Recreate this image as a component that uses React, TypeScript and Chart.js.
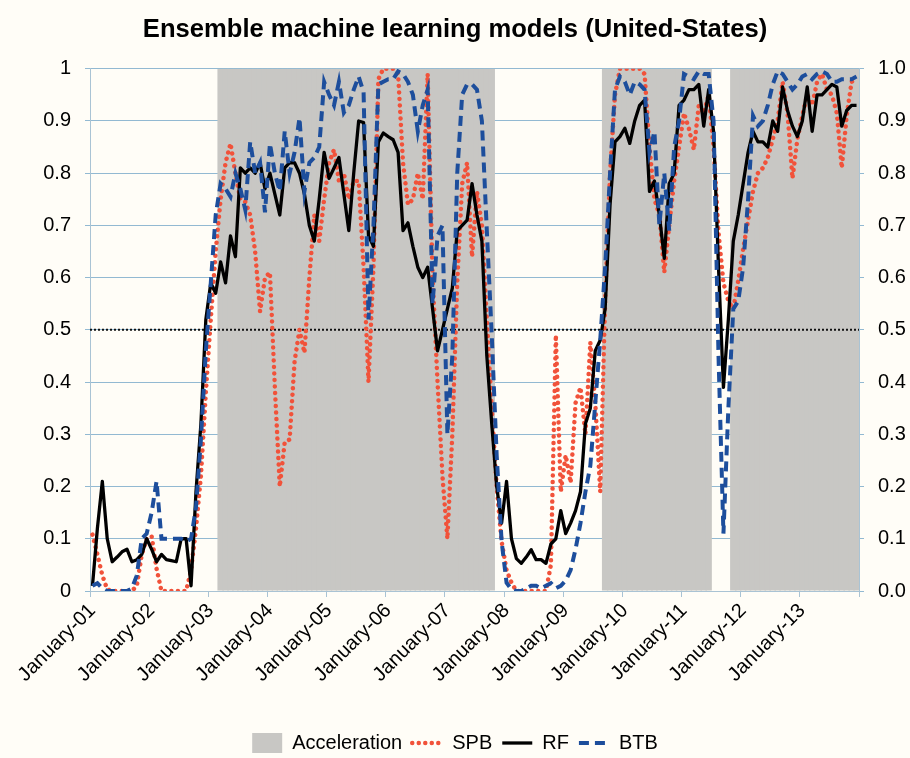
import React, { useEffect, useRef } from "react";
import { Chart, registerables } from "chart.js";

Chart.register(...registerables);

const TITLE = "Ensemble machine learning models (United-States)";
const MONTHS = ["January", "February", "March", "April", "May", "June", "July", "August", "September", "October", "November", "December"];
const YEARS = ["01", "02", "03", "04", "05", "06", "07", "08", "09", "10", "11", "12", "13"];
const LABELS: string[] = [];
YEARS.forEach((yy) => MONTHS.forEach((m) => LABELS.push(`${m}-${yy}`)));

// 1 = acceleration phase (shaded), one row per year
const ACCELERATION = [
  0, 0, 0, 0, 0, 0, 0, 0, 0, 0, 0, 0,
  0, 0, 0, 0, 0, 0, 0, 0, 0, 0, 0, 0,
  0, 0, 1, 1, 1, 1, 1, 1, 1, 1, 1, 1,
  1, 1, 1, 1, 1, 1, 1, 1, 1, 1, 1, 1,
  1, 1, 1, 1, 1, 1, 1, 1, 1, 1, 1, 1,
  1, 1, 1, 1, 1, 1, 1, 1, 1, 1, 1, 1,
  1, 1, 1, 1, 1, 1, 1, 1, 1, 1, 0, 0,
  0, 0, 0, 0, 0, 0, 0, 0, 0, 0, 0, 0,
  0, 0, 0, 0, 0, 0, 0, 0, 1, 1, 1, 1,
  1, 1, 1, 1, 1, 1, 1, 1, 1, 1, 1, 1,
  1, 1, 1, 1, 1, 1, 0, 0, 0, 0, 1, 1,
  1, 1, 1, 1, 1, 1, 1, 1, 1, 1, 1, 1,
  1, 1, 1, 1, 1, 1, 1, 1, 1, 1, 1, 1,
];

const SPB = [
  0.108, 0.07, 0.03, 0.003, 0, 0, 0, 0, 0, 0.01, 0.07, 0.10,
  0.105, 0.043, 0, 0, 0, 0, 0, 0, 0.04, 0.12, 0.22, 0.38,
  0.52, 0.65, 0.75, 0.82, 0.857, 0.80, 0.75, 0.745, 0.72, 0.65, 0.535, 0.60,
  0.61, 0.39, 0.20, 0.285, 0.29, 0.44, 0.50, 0.456, 0.60, 0.72, 0.67, 0.75,
  0.82, 0.845, 0.785, 0.80, 0.75, 0.785, 0.785, 0.62, 0.40, 0.62, 0.98, 1.0,
  1.0, 1.0, 0.99, 0.82, 0.74, 0.75, 0.80, 0.75, 0.99, 0.60, 0.40, 0.22,
  0.10, 0.30, 0.59, 0.78, 0.82, 0.64, 0.765, 0.70, 0.52, 0.35, 0.20, 0.095,
  0.04, 0.016, 0, 0, 0, 0, 0, 0, 0, 0.05, 0.49, 0.19,
  0.26, 0.207, 0.36, 0.39, 0.30, 0.476, 0.36, 0.19, 0.555, 0.80, 0.95, 1.0,
  1.0, 1.0, 1.0, 1.0, 0.99, 0.85, 0.75, 0.72, 0.61, 0.70, 0.785, 0.85,
  0.915, 0.885, 0.845, 0.93, 0.915, 0.95, 0.85, 0.686, 0.59, 0.555, 0.54, 0.594,
  0.655, 0.71, 0.765, 0.80, 0.81, 0.83, 0.865, 0.90, 0.975, 0.915, 0.79, 0.865,
  0.91, 0.95, 0.93, 0.975, 0.99, 0.96, 0.95, 0.915, 0.81, 0.91, 0.975, 0.98,
];

const RF = [
  0.01, 0.12, 0.21, 0.10, 0.056, 0.065, 0.075, 0.08, 0.056, 0.06, 0.07, 0.10,
  0.08, 0.056, 0.07, 0.06, 0.058, 0.056, 0.10, 0.10, 0.01, 0.19, 0.32, 0.52,
  0.59, 0.57, 0.63, 0.59, 0.68, 0.64, 0.81, 0.80, 0.81, 0.80, 0.82, 0.77,
  0.80, 0.76, 0.72, 0.81, 0.82, 0.82, 0.80, 0.76, 0.70, 0.67, 0.75, 0.84,
  0.79, 0.81, 0.83, 0.76, 0.69, 0.80, 0.90, 0.897, 0.68, 0.66, 0.86, 0.877,
  0.87, 0.864, 0.84, 0.69, 0.705, 0.66, 0.62, 0.60, 0.62, 0.54, 0.46, 0.50,
  0.54, 0.58, 0.69, 0.70, 0.71, 0.78, 0.72, 0.67, 0.45, 0.32, 0.20, 0.13,
  0.21, 0.10, 0.062, 0.053, 0.065, 0.079, 0.06, 0.06, 0.053, 0.09, 0.10, 0.154,
  0.11, 0.13, 0.154, 0.19, 0.32, 0.35, 0.46, 0.48, 0.54, 0.74, 0.86, 0.87,
  0.886, 0.857, 0.90, 0.93, 0.94, 0.765, 0.785, 0.72, 0.637, 0.78, 0.80, 0.93,
  0.94, 0.96, 0.96, 0.97, 0.89, 0.96, 0.88, 0.62, 0.39, 0.52, 0.67, 0.72,
  0.78, 0.84, 0.88, 0.86, 0.86, 0.85, 0.90, 0.88, 0.965, 0.92, 0.89, 0.87,
  0.90, 0.965, 0.88, 0.95, 0.95, 0.96, 0.97, 0.965, 0.89, 0.92, 0.93, 0.93,
];

const BTB = [
  0.01, 0.015, 0.005, 0, 0, 0, 0, 0, 0.005, 0.03, 0.10, 0.11,
  0.15, 0.21, 0.10, 0.10, 0.10, 0.10, 0.10, 0.095, 0.10, 0.16, 0.29, 0.46,
  0.59, 0.72, 0.78, 0.77, 0.755, 0.80, 0.77, 0.73, 0.86, 0.80, 0.82, 0.725,
  0.857, 0.80, 0.765, 0.88, 0.80, 0.84, 0.906, 0.765, 0.82, 0.83, 0.85, 0.975,
  0.95, 0.93, 0.975, 0.916, 0.93, 0.96, 0.985, 0.955, 0.52, 0.70, 0.97, 0.975,
  0.98, 0.98, 0.995, 0.99, 0.975, 0.95, 0.88, 0.93, 0.96, 0.55, 0.68, 0.70,
  0.30, 0.45, 0.80, 0.95, 0.97, 0.97, 0.96, 0.90, 0.69, 0.49, 0.26, 0.095,
  0.016, 0.003, 0, 0, 0.005, 0.01, 0.01, 0.005, 0.01, 0.015, 0.005, 0.01,
  0.02, 0.04, 0.08, 0.13, 0.19, 0.24, 0.36, 0.48, 0.62, 0.80, 0.96, 0.985,
  0.975, 0.95, 0.975, 0.97, 0.96, 0.84, 0.88, 0.70, 0.80, 0.69, 0.85, 0.90,
  0.99, 0.985, 0.98, 0.995, 0.99, 0.99, 0.90, 0.45, 0.11, 0.35, 0.54, 0.555,
  0.62, 0.75, 0.91, 0.89, 0.90, 0.93, 0.97, 0.995, 0.99, 0.975, 0.96, 0.97,
  0.985, 0.99, 0.98, 0.99, 0.995, 0.99, 0.975, 0.975, 0.98, 0.98, 0.98, 0.985,
];

const THRESHOLD = 0.5;

const FONT = "'Liberation Sans', Arial, Helvetica, sans-serif";
const BG = "#fffdf7";
const GRAY = "#c8c7c4";
const RED = "#f1523a";
const BLUE = "#1d4e9c";
const GRID = "#92b9d2";
const AXIS = "#a9c3d4";

const bgPlugin = {
  id: "bgFill",
  beforeDraw(chart: any) {
    const { ctx, width, height } = chart;
    ctx.save();
    ctx.fillStyle = BG;
    ctx.fillRect(0, 0, width, height);
    ctx.restore();
  },
};

const thresholdPlugin = {
  id: "thresholdLine",
  afterDatasetDraw(chart: any, args: any) {
    if (args.index !== 0) return;
    const { ctx, chartArea } = chart;
    const y = chart.scales.y.getPixelForValue(THRESHOLD);
    ctx.save();
    ctx.setLineDash([2, 2]);
    ctx.lineWidth = 2;
    ctx.strokeStyle = "#111";
    ctx.beginPath();
    ctx.moveTo(chartArea.left, y);
    ctx.lineTo(chartArea.right, y);
    ctx.stroke();
    ctx.restore();
  },
};

export default function App() {
  const ref = useRef<HTMLCanvasElement | null>(null);

  useEffect(() => {
    if (!ref.current) return;
    const chart = new Chart(ref.current, {
      type: "bar",
      data: {
        labels: LABELS,
        datasets: [
          {
            type: "bar",
            label: "Acceleration",
            data: ACCELERATION.map((v) => (v ? 1 : null)),
            backgroundColor: GRAY,
            borderWidth: 0,
            barPercentage: 1.3,
            categoryPercentage: 1,
            inflateAmount: 0,
            order: 10,
            pointStyle: "rect",
            yAxisID: "y",
          } as any,
          {
            type: "line",
            label: "SPB",
            data: SPB,
            borderColor: RED,
            backgroundColor: RED,
            borderWidth: 4.5,
            borderDash: [0.01, 6.5],
            borderCapStyle: "round",
            pointRadius: 0,
            tension: 0,
            fill: false,
            order: 3,
            pointStyle: "line",
            yAxisID: "y",
          } as any,
          {
            type: "line",
            label: "RF",
            data: RF,
            borderColor: "#000",
            backgroundColor: "#000",
            borderWidth: 3.3,
            borderJoinStyle: "round",
            pointRadius: 0,
            tension: 0,
            fill: false,
            order: 2,
            pointStyle: "line",
            yAxisID: "y",
          } as any,
          {
            type: "line",
            label: "BTB",
            data: BTB,
            borderColor: BLUE,
            backgroundColor: BLUE,
            borderWidth: 4,
            borderDash: [10, 6],
            pointRadius: 0,
            tension: 0,
            fill: false,
            order: 1,
            pointStyle: "line",
            yAxisID: "y",
          } as any,
        ],
      },
      options: {
        responsive: false,
        animation: false,
        devicePixelRatio: 1,
        layout: { padding: { left: 0, right: 0, top: 0, bottom: -5 } },
        plugins: {
          title: {
            display: true,
            text: TITLE,
            color: "#000",
            font: { family: FONT, size: 25.6, weight: "bold" },
            padding: { top: 15, bottom: 23 },
          },
          legend: {
            position: "bottom",
            labels: {
              usePointStyle: true,
              pointStyleWidth: 30,
              boxHeight: 20,
              color: "#000",
              font: { family: FONT, size: 20 },
              padding: 10,
              sort: (a: any, b: any) => a.datasetIndex - b.datasetIndex,
              generateLabels: (chart: any) => {
                const items = (Chart.defaults.plugins.legend.labels as any).generateLabels(chart);
                items.forEach((it: any) => {
                  const ds = chart.data.datasets[it.datasetIndex];
                  it.lineDash = ds.borderDash || [];
                  it.lineCap = ds.borderCapStyle || "butt";
                  it.lineWidth = ds.borderWidth || 0;
                  it.pointStyle = ds.pointStyle;
                  it.strokeStyle = ds.borderColor;
                  it.fillStyle = ds.backgroundColor;
                });
                return items;
              },
            },
          },
          tooltip: { enabled: false },
        },
        scales: {
          x: {
            type: "category",
            offset: true,
            grid: {
              offset: true,
              drawOnChartArea: false,
              drawTicks: true,
              tickLength: 6,
              color: (c: any) =>
                c.index === undefined || c.index % 12 === 0 ? AXIS : "rgba(0,0,0,0)",
            },
            border: { display: true, color: AXIS },
            ticks: {
              autoSkip: false,
              maxRotation: 45,
              minRotation: 45,
              padding: 2,
              color: "#000",
              font: { family: FONT, size: 20 },
              callback: (_v: any, i: number) => (i % 12 === 0 ? `January-${YEARS[i / 12]}` : ""),
            },
            afterFit: (s: any) => {
              s.height = 132;
            },
          },
          y: {
            position: "left",
            min: 0,
            max: 1,
            grid: { color: GRID, lineWidth: 1, drawTicks: true, tickLength: 5 },
            border: { display: true, color: AXIS },
            ticks: {
              stepSize: 0.1,
              padding: 14,
              color: "#000",
              font: { family: FONT, size: 20 },
              callback: (v: any) => {
                const r = Math.round(Number(v) * 10) / 10;
                return r === 0 || r === 1 ? String(r) : r.toFixed(1);
              },
            },
            afterFit: (s: any) => {
              s.width = 90;
            },
          },
          y2: {
            position: "right",
            min: 0,
            max: 1,
            grid: { drawOnChartArea: false, color: GRID, drawTicks: true, tickLength: 5 },
            border: { display: true, color: AXIS },
            ticks: {
              stepSize: 0.1,
              padding: 14,
              color: "#000",
              font: { family: FONT, size: 20 },
              callback: (v: any) => (Math.round(Number(v) * 10) / 10).toFixed(1),
            },
            afterFit: (s: any) => {
              s.width = 51;
            },
          },
        },
      } as any,
      plugins: [bgPlugin, thresholdPlugin],
    });
    return () => chart.destroy();
  }, []);

  return (
    <div style={{ position: "fixed", left: 0, top: 0, width: 910, height: 758, background: BG }}>
      <canvas ref={ref} width={910} height={758} style={{ display: "block" }} />
    </div>
  );
}
